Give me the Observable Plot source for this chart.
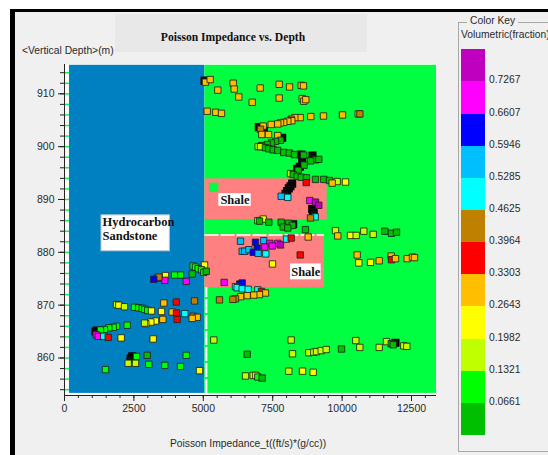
<!DOCTYPE html>
<html><head><meta charset="utf-8">
<script src="https://cdn.jsdelivr.net/npm/d3@7"></script>
<script src="https://cdn.jsdelivr.net/npm/@observablehq/plot@0.6"></script>
<style>
body{margin:0;background:#fff;}
#wrap{position:relative;width:548px;height:455px;overflow:hidden;background:#f0f0f0;font-family:"Liberation Sans",Arial,sans-serif;color:#2a2a2a;}
#wrap svg{position:absolute;left:0;top:0;}
.abs{position:absolute;white-space:nowrap;}
</style></head><body><div id="wrap"></div>
<script>
// ---- data ----
const title = "Poisson Impedance vs. Depth";
const xLabel = "Poisson Impedance_t((ft/s)*(g/cc))";
const yLabel = "<Vertical Depth>(m)";
const keyTitle = "Color Key";
const keyName = "Volumetric(fraction)";
const xTicks = [0, 2500, 5000, 7500, 10000, 12500];
const yTicks = [860, 870, 880, 890, 900, 910];
const keyTicks = [0.0661, 0.1321, 0.1982, 0.2643, 0.3303, 0.3964, 0.4625, 0.5285, 0.5946, 0.6607, 0.7267];
const keyColors = ["#00bf00","#00ff00","#bfff00","#ffff00","#ffbf00","#ff0000","#bf8000","#00ffff","#00bfff","#0000ff","#ff00ff","#bf00bf"];
// [impedance, depth, volumetric fraction]
const samples = [
[5079,912.2,.30],[5248,912.7,.30],[5522,910.7,.30],[6077,912.0,.30],[6113,910.9,.30],[6278,909.4,.30],[6761,908.4,.30],[7049,911.1,.30],[7734,911.8,.30],[7734,909.2,.30],[8105,911.3,.30],[8526,911.6,.30],[8609,911.5,.30],[8562,909.1,.30],[8620,908.6,.30],[8692,908.9,.30],[5140,906.7,.30],[5450,906.5,.30],[5655,906.3,.30],
[10580,906.2,.30],[10640,906.2,.43],[10014,906.0,.30],[9329,905.8,.30],[8872,905.7,.30],[8490,905.5,.30],[8295,905.5,.30],[8166,905.2,.43],[8188,904.9,.30],[8043,904.8,.30],[7899,904.6,.30],[7780,904.5,.30],[7683,904.3,.30],[7445,904.2,.30],[7157,903.9,.30],[7060,903.3,.43],[7107,902.3,.30],[7348,902.3,.30],[7683,902.1,.30],
[7780,901.2,.03],[7600,901.0,.03],[7456,900.7,.03],[7301,900.4,.03],[7096,900.2,.03],[6977,900.0,.165],[7060,900.0,.165],[7240,899.8,.03],[7359,899.6,.03],[7517,899.4,.03],[7683,899.3,.03],[7899,898.9,.03],[8094,898.8,.03],[8285,898.5,.03],[8620,898.4,.03],[9041,897.5,.03],[9160,897.6,.03],[8861,897.3,.03],[8634,896.5,.03],[8418,895.5,.03],[8141,894.9,.165],[8238,894.7,.03],[8382,894.4,.03],[8526,894.2,.03],[8717,894.1,.03],[8706,893.2,.36],[9041,893.8,.03],[9340,893.8,.03],[9545,893.6,.03],[9823,893.4,.165],[10122,893.3,.23],[9643,893.1,.30],
[7806,890.6,.56],[8043,890.4,.50],[8836,889.8,.69],[9041,889.5,.76],[9160,888.9,.76],[9030,886.7,.50],[8861,886.5,.43],
[7157,886.3,.23],[6963,886.0,.165],[7024,885.9,.03],[7359,885.7,.03],[7806,885.7,.03],[8079,885.5,.03],[8202,885.1,.03],[7878,884.8,.03],[8043,884.6,.03],[8681,884.3,.03],[8778,882.9,.30],
[9761,884.1,.165],[9844,883.1,.30],[10302,883.2,.23],[10507,883.2,.165],[10781,884.0,.165],[11120,883.4,.165],[11537,884.0,.03],[11779,883.6,.03],[11959,883.8,.03],
[6340,882.1,.56],[6880,881.9,.63],[7179,882.2,.56],[7395,881.7,.69],[7683,881.7,.69],[7780,881.4,.76],[7996,882.5,.50],[8166,882.7,.36],[7481,881.2,.69],[7215,881.0,.69],[6941,880.8,.63],[6401,880.2,.56],[6494,880.2,.56],[6639,880.5,.56],[6797,880.0,.63],[6977,879.8,.56],[7251,879.7,.50],[8490,879.5,.36],[7492,877.8,.23],
[5752,874.3,.69],[6314,874.0,.63],[6401,874.2,.63],[6159,873.5,.50],[6221,873.3,.50],[6401,873.1,.50],[6617,873.0,.50],[6963,872.9,.50],[7096,872.6,.36],[7240,872.3,.30],[7024,872.0,.30],[6819,871.9,.30],[6581,871.8,.30],[6340,871.6,.30],[6159,871.2,.43],[6062,871.1,.43],[5583,871.0,.43],
[10543,879.5,.30],[10601,878.0,.23],[11022,878.1,.23],[11336,878.4,.30],[11768,879.3,.30],[11779,878.6,.36],[11923,878.8,.30],[12344,878.8,.30],[12535,879.1,.30],[12607,879.0,.30],
[5043,877.6,.23],[4636,877.4,.10],[4719,877.2,.10],[4816,876.9,.10],[4935,876.7,.10],[5018,876.2,.10],[5104,876.4,.03],[4600,875.9,.03],[4178,875.7,.10],[3962,875.7,.10],[4384,874.5,.69],[3638,875.6,.23],[3613,874.7,.69],[3339,875.1,.43],[3397,875.3,.43],[3217,874.9,.63],
[1873,870.1,.165],[1956,870.0,.23],[2161,869.7,.165],[2521,869.6,.10],[2676,869.5,.10],[2799,869.4,.10],[2892,869.2,.10],[3000,869.0,.10],[3134,868.9,.23],[3577,870.4,.30],[4023,870.6,.36],[3494,868.8,.23],[3879,868.7,.30],[4034,868.5,.36],[4333,868.4,.50],[4683,870.8,.43],[4636,867.9,.43],[4780,867.7,.30],[4600,867.5,.30],[4059,867.3,.36],[3541,867.3,.30],[3278,867.0,.23],[3109,866.8,.23],[2928,866.5,.23],[2882,866.6,.165],
[2258,866.2,.10],[1873,866.0,.10],[1754,865.8,.10],[1596,865.7,.10],[1441,865.4,.10],[1297,865.3,.10],[1142,864.4,.69],[1214,864.1,.69],[1416,864.1,.50],[1574,863.9,.36],[2042,863.8,.23],[3195,863.6,.23],[5378,863.4,.165],
[2593,860.3,.10],[2294,859.0,.165],[2557,859.0,.165],[2979,860.5,.03],[3036,858.8,.10],[3613,858.6,.10],[4178,858.4,.10],[4384,860.5,.10],[4863,857.6,.23],[1477,857.8,.10],
[6581,860.7,.03],[8166,863.4,.165],[8213,860.8,.165],[8800,861.0,.165],[8980,861.1,.165],[9077,861.2,.165],[9246,861.4,.165],[9427,861.6,.165],[9978,861.7,.03],[10493,863.3,.165],[10637,862.0,.165],[11336,862.0,.165],[11598,863.1,.165],[11768,862.7,.03],[11840,862.5,.03],[12222,862.3,.165],[12330,862.2,.165],
[6520,856.6,.165],[6797,856.7,.165],[6891,856.7,.23],[6963,856.4,.10],[7121,856.2,.03],[8079,857.5,.165],[8573,857.5,.23],[8958,857.3,.23]
];
// densely overlapping samples (rendered as black clusters) [impedance, depth]
const overlapSamples = [
[5043,912.5],[6999,903.7],[7179,903.0],[7842,901.7],[8526,898.5],[8933,898.3],[8562,897.1],[8476,896.2],[8382,895.8],[8202,893.0],[8140,892.5],[8079,892.1],[8020,891.6],[7960,891.1],[8922,888.2],[8950,887.8],[8980,887.4],[8238,885.3],[1178,865.2],[1117,865.0],[2439,860.3],[2410,860.0],[2377,859.8],[11923,862.9]
];
// interpreted zones [x1, x2, y1, y2]
const sandstoneZone = [180, 5060, 853.3, 915.4];
const backgroundZone = [5060, 13400, 853.3, 915.4];
const shaleZones = [[5060, 9462, 886.2, 893.9], [5060, 9365, 873.3, 883.3]];
const markerZone = [5223, 5558, 891.3, 893.1];
// annotation label boxes [x1, x2, y1, y2]
const sandBox = [1333, 3794, 880.2, 887.0];
const sandLines = [["Hydrocarbon", 1369, 885.7], ["Sandstone", 1369, 883.0]];
const shaleLabels = [["Shale", 6141, 889.9, 5558, 6725, 888.7, 891.1], ["Shale", 8692, 876.3, 8141, 9246, 874.8, 877.8]];

// ---- chart ----
const X0 = 0, X1 = 13400, Y0 = 852.9, Y1 = 915.55;
const zrect = (z, fill, stroke = "none") => Plot.rect([z], {x1: d => d[0], x2: d => d[1], y1: d => d[2], y2: d => d[3], fill, stroke});
const serif = {fontFamily: "Liberation Serif, Times New Roman, serif", fontWeight: "bold", fontSize: 12.5, fill: "#111"};
const chart = Plot.plot({
  width: 548, height: 455,
  marginTop: 64, marginBottom: 60, marginLeft: 64, marginRight: 112,
  style: {background: "transparent", fontFamily: "Liberation Sans, Arial, sans-serif", fontSize: "10.5px", color: "#2a2a2a"},
  x: {domain: [X0, X1], axis: null},
  y: {domain: [Y0, Y1], axis: null},
  color: {type: "threshold", domain: keyTicks, range: keyColors},
  marks: [
    zrect([X0, X1, Y0, Y1], "white"),
    zrect(sandstoneZone, "#0080c0"),
    zrect(backgroundZone, "#00ff40"),
    Plot.rect(shaleZones, {x1: d => d[0], x2: d => d[1], y1: d => d[2], y2: d => d[3], fill: "#ff8080"}),
    zrect(markerZone, "#00ff40"),
    Plot.ruleY(d3.range(854, 916, 2), {x1: 0, x2: 180, stroke: "#00ff40", strokeWidth: 1.5}),
    Plot.ruleX([5110], {y1: 853.3, y2: 873.3, stroke: "white", strokeWidth: 2, strokeDasharray: "14,2"}),
    Plot.ruleY([883.3], {x1: 5060, x2: 9365, stroke: "white", strokeWidth: 1.5, strokeDasharray: "14,2"}),
    Plot.dot(overlapSamples, {x: d => d[0], y: d => d[1], symbol: "square", r: 3.7, fill: "#111", stroke: "#000"}),
    Plot.dot(samples, {x: d => d[0], y: d => d[1], fill: d => d[2], symbol: "square", r: 3.6, stroke: "#222", strokeWidth: 1, strokeOpacity: 0.85}),
    zrect(sandBox, "white", "#b8c8d8"),
    Plot.text(sandLines, {x: d => d[1], y: d => d[2], text: d => d[0], textAnchor: "start", ...serif}),
    Plot.rect(shaleLabels, {x1: d => d[3], x2: d => d[4], y1: d => d[5], y2: d => d[6], fill: "white"}),
    Plot.text(shaleLabels, {x: d => d[1], y: d => d[2], text: d => d[0], textAnchor: "middle", ...serif}),
    Plot.ruleX([X0], {y1: Y0, y2: Y1, stroke: "#222"}),
    Plot.ruleY([Y0], {x1: X0, x2: X1, stroke: "#222"}),
    Plot.axisY(yTicks, {anchor: "left", tickSize: 6, tickPadding: 4, stroke: "#222", tickFormat: d => String(d)}),
    Plot.axisY(d3.range(854, 916, 2), {anchor: "left", tickSize: 4, text: null, stroke: "#222"}),
    Plot.axisX(xTicks, {anchor: "bottom", tickSize: 6, tickPadding: 3, stroke: "#222", tickFormat: d => String(d)}),
    Plot.axisX(d3.range(0, 13401, 500), {anchor: "bottom", tickSize: 3, text: null, stroke: "#222"})
  ]
});
const wrap = document.getElementById("wrap");
wrap.appendChild(chart);

function add(css, text) {
  const d = document.createElement("div");
  d.className = "abs";
  d.style.cssText = css;
  if (text != null) d.textContent = text;
  wrap.appendChild(d);
  return d;
}
// window frame
add("left:0;top:0;width:548px;height:9px;background:#fff;");
add("left:0;top:0;width:10px;height:455px;background:#fff;");
add("left:10px;top:9px;width:538px;height:3px;background:#000;");
add("left:10px;top:9px;width:5px;height:446px;background:#000;");
// title
add("left:115px;top:14px;width:252px;height:38px;background:#e8e8e8;");
add("left:115px;top:31px;width:236px;text-align:center;font:bold 11.6px 'Liberation Serif','Times New Roman',serif;color:#111;", title);
add("left:22px;top:45px;font-size:10.3px;", yLabel);
add("left:0px;top:438px;width:496px;text-align:center;font-size:10.3px;", xLabel);
// color key
add("left:458px;top:22px;width:100px;height:430px;border:1px solid #a8a8a8;border-right:none;box-sizing:border-box;");
add("left:467px;top:15px;padding:0 3px;background:#f0f0f0;font-size:10.3px;", keyTitle);
add("left:461px;top:29px;width:87px;overflow:hidden;font-size:10.3px;", keyName);
const sw = 32.14, swTop = 49.3;
keyColors.slice().reverse().forEach((c, i) => {
  add(`left:461px;top:${swTop + i * sw}px;width:24px;height:${sw + 0.5}px;background:${c};`);
});
keyTicks.slice().reverse().forEach((t, i) => {
  add(`left:489px;top:${swTop + (i + 1) * sw - 7}px;font-size:10.3px;`, t.toFixed(4));
});
</script></body></html>
